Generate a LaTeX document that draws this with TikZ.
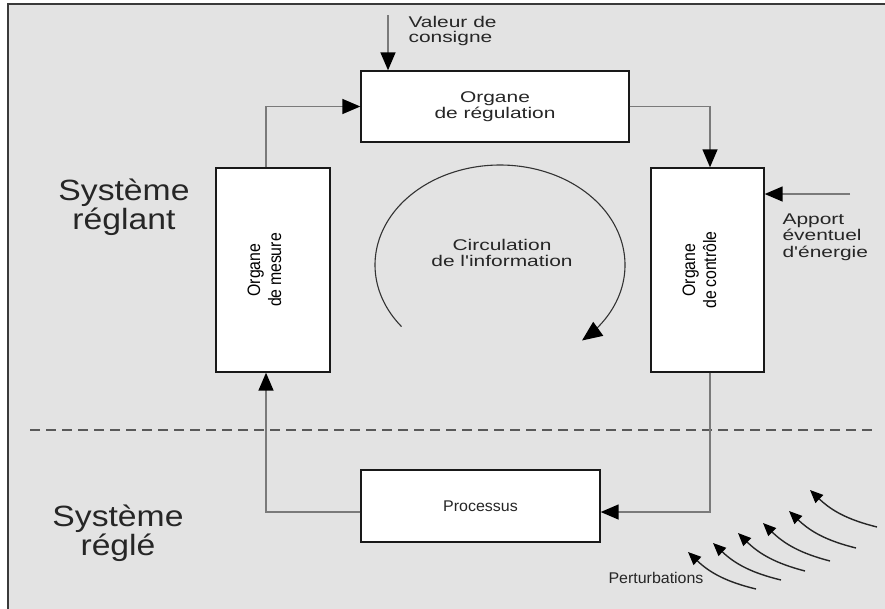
\documentclass[tikz,border=0pt]{standalone}
\usepackage{fontspec}
\setmainfont{Liberation Sans}
\newfontfamily\widefont[FakeStretch=1.35]{Liberation Sans}
\newfontfamily\midfont[FakeStretch=1.03]{Liberation Sans}
\newfontfamily\bigfont[FakeStretch=1.15]{Liberation Sans}
\newfontfamily\narrowfont[FakeStretch=0.88]{Liberation Sans}
\usetikzlibrary{arrows.meta}
\definecolor{bg}{HTML}{E3E3E3}
\definecolor{conn}{HTML}{7A7A7A}
\definecolor{frame}{HTML}{3A3A3A}
\tikzset{
  box/.style={draw=black!90, line width=1.4pt, fill=white, inner sep=0pt},
  smalltxt/.style={font=\widefont\fontsize{15.5}{15.5}\selectfont, text=black!85},
  midtxt/.style={font=\midfont\fontsize{15.5}{15.5}\selectfont, text=black!85},
  bigtxt/.style={font=\bigfont\fontsize{29.3}{27.5}\selectfont, text=black!85, align=center},
  conn/.style={draw=conn, line width=1.5pt},
  bigtip/.style={-{Triangle[length=18pt,width=15pt,color=black]}},
  pert/.style={draw=black!85, line width=1.4pt, -{Triangle[length=13pt,width=11pt,color=black]}},
}
\newcommand{\rottext}[2]{\rotatebox{90}{\narrowfont\fontsize{18}{21}\selectfont\begin{tabular}{@{}c@{}}#1\\#2\end{tabular}}}
\begin{document}
\begin{tikzpicture}[x=1pt,y=-1pt]
\useasboundingbox (0,0) rectangle (885,608);
\begin{scope}
  \clip (0,0) rectangle (885,608);
  \draw[line width=2pt, draw=frame, fill=bg] (8,4) rectangle (900,620);
\end{scope}

% boxes
\node[box, minimum width=268pt, minimum height=71pt, smalltxt, align=center] (reg) at (495,106.5) {Organe\\de régulation};
\node[box, minimum width=114pt, minimum height=204pt, text width=100pt, align=center] (mes) at (273,270)
  {\hspace*{-13pt}\rottext{Organe}{de mesure}};
\node[box, minimum width=113pt, minimum height=204pt, text width=100pt, align=center] (ctl) at (707.5,270)
  {\hspace*{-12pt}\rottext{Organe}{de contrôle}};
\node[box, minimum width=239pt, minimum height=72pt, midtxt] (proc) at (480.5,506) {Processus};

% labels
\node[smalltxt, align=left, anchor=west] (vcl) at (405,31) {Valeur de\\consigne};
\node[smalltxt, font=\widefont\fontsize{15.5}{16.5}\selectfont, align=left, anchor=west] (apl) at (779,237) {Apport\\éventuel\\d'énergie};
\node[smalltxt, align=center] (circ) at (502,253) {Circulation\\de l'information};
\node[midtxt] (pertl) at (656,578) {Perturbations};
\node[bigtxt] (sr1) at (124,207) {Système\\réglant};
\node[bigtxt] (sr2) at (118,533) {Système\\réglé};

% dashed separator
\coordinate (dl) at (30,430);
\coordinate (dr) at (872,430);
\draw[draw=black!65, line width=1.2pt, dash pattern=on 10pt off 6pt] (dl) -- (dr);

% connectors
\draw[conn, bigtip] ([xshift=-7pt]mes.north) |- (reg.west);
\draw[conn, bigtip] (reg.east) -| ([xshift=2.5pt]ctl.north);
\draw[conn, bigtip] ([xshift=2.5pt]ctl.south) |- ([yshift=-6pt]proc.east);
\draw[conn, bigtip] ([yshift=-6pt]proc.west) -| ([xshift=-7pt]mes.south);

\coordinate (vc) at (388,15);
\draw[conn, bigtip] (vc) -- (vc |- reg.north);
\coordinate (ap) at (850,194);
\draw[conn, bigtip] (ap) -- (ap -| ctl.east);

% circulation arc
\draw[draw=black!80, line width=1.1pt, -{Triangle[length=20pt,width=17pt,color=black]}]
  plot[domain=142:409, samples=90, smooth] ({500+125*cos(\x)},{265+100*sin(\x)});

% perturbation arrows
\foreach \i/\tx/\ty/\hx/\hy in {1/756/589/688/552, 2/781/580/713/543, 3/805/571/738/533, 4/830/561/763/523, 5/856/548/789/511, 6/877/527/810/490}{
  \coordinate (pt\i) at (\tx,\ty);
  \coordinate (ph\i) at (\hx,\hy);
  \draw[pert] (pt\i) to[bend left=15] (ph\i);
}
\end{tikzpicture}
\end{document}
